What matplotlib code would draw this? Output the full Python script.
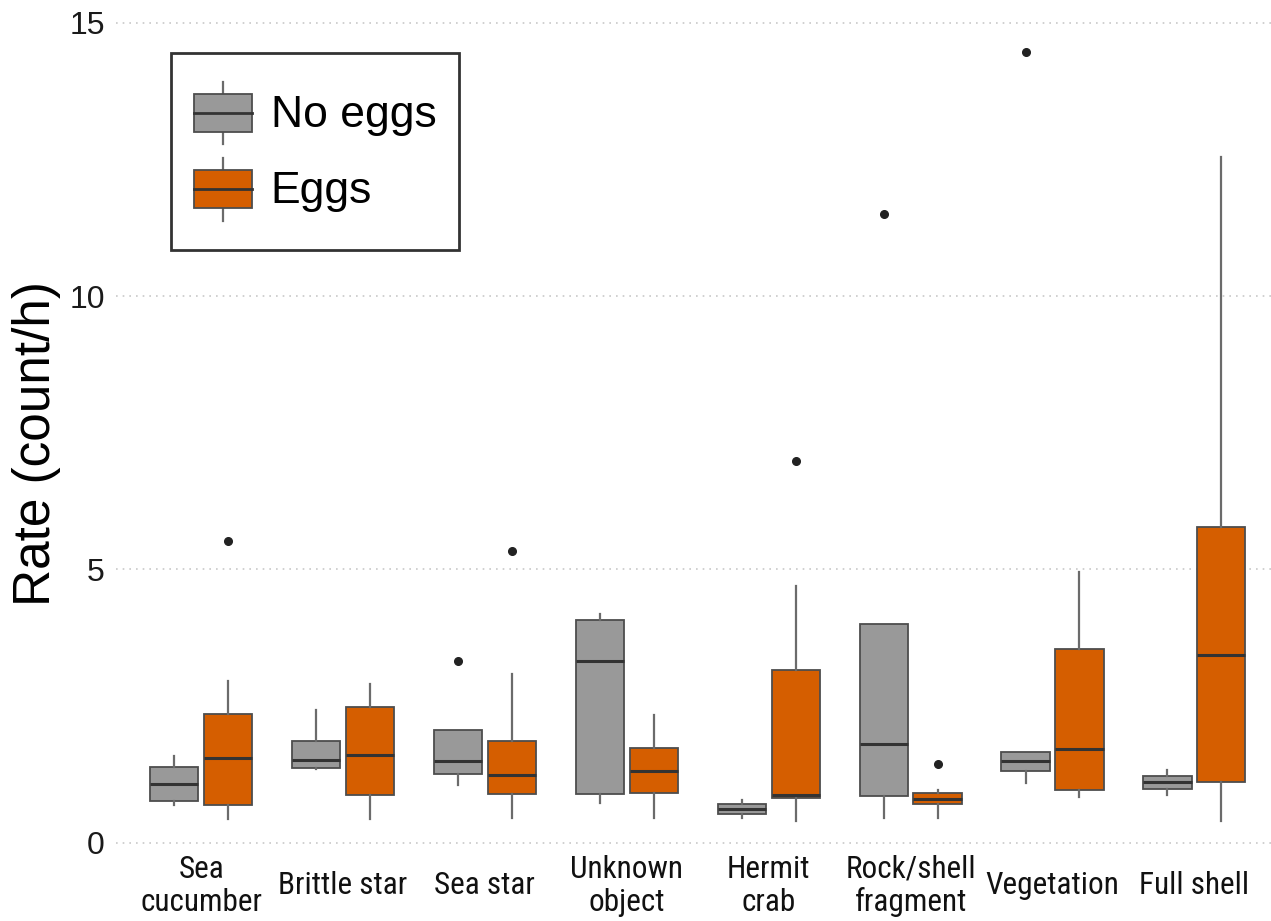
import matplotlib
matplotlib.use("Agg")
import matplotlib.pyplot as plt
from matplotlib import font_manager
from matplotlib.legend_handler import HandlerBase
from matplotlib.patches import Rectangle
from matplotlib.lines import Line2D

categories = ["Sea\ncucumber", "Brittle star", "Sea star", "Unknown\nobject",
              "Hermit\ncrab", "Rock/shell\nfragment", "Vegetation", "Full shell"]

# five-number summaries per category: (whisker low, q1, median, q3, whisker high)
no_eggs_low = [0.70, 1.35, 1.05, 0.73, 0.45, 0.45, 1.09, 0.87]
no_eggs_q1 = [0.77, 1.37, 1.26, 0.89, 0.53, 0.85, 1.32, 0.99]
no_eggs_med = [1.07, 1.52, 1.49, 3.32, 0.62, 1.80, 1.49, 1.12]
no_eggs_q3 = [1.39, 1.87, 2.07, 4.07, 0.71, 4.00, 1.66, 1.22]
no_eggs_high = [1.58, 2.43, 2.07, 4.18, 0.79, 4.00, 1.66, 1.34]
no_eggs_out = [[], [], [3.32], [], [], [11.50], [14.47], []]

eggs_low = [0.43, 0.43, 0.45, 0.45, 0.40, 0.45, 0.84, 0.40]
eggs_q1 = [0.70, 0.88, 0.89, 0.91, 0.82, 0.71, 0.96, 1.11]
eggs_med = [1.56, 1.60, 1.24, 1.32, 0.88, 0.80, 1.71, 3.44]
eggs_q3 = [2.35, 2.49, 1.87, 1.74, 3.16, 0.91, 3.54, 5.78]
eggs_high = [2.96, 2.90, 3.09, 2.34, 4.70, 0.96, 4.96, 12.54]
eggs_out = [[5.53], [], [5.33], [], [6.99], [1.44], [], []]

groups = ["No eggs", "Eggs"]
yticks = [0, 5, 10, 15]

GRAY = "#999999"
ORANGE = "#D55E00"
EDGE = "#4d4d4d"
MEDIAN = "#333333"
WHISK = "#6b6b6b"

SANS = ["Liberation Sans", "DejaVu Sans"]

# pick a narrow face for the category labels if one is installed
installed = {f.name for f in font_manager.fontManager.ttflist}
if "Liberation Sans Narrow" in installed:
    cat_font, cat_size = ["Liberation Sans Narrow", "DejaVu Sans"], 23
elif "Roboto Condensed" in installed:
    cat_font, cat_size = ["Roboto Condensed", "DejaVu Sans"], 22.5
else:
    cat_font, cat_size = SANS, 19


def make_stats(lo, q1, med, q3, hi, out):
    return [dict(whislo=a, q1=b, med=c, q3=d, whishi=e, fliers=f)
            for a, b, c, d, e, f in zip(lo, q1, med, q3, hi, out)]


fig = plt.figure(figsize=(12.71, 9.21), dpi=100)
ax = fig.add_axes([116 / 1271, 1 - 851 / 921, 1 - 116 / 1271, 850 / 921])

positions = list(range(1, len(categories) + 1))
offset = 0.19
width = 0.34

series = [
    (make_stats(no_eggs_low, no_eggs_q1, no_eggs_med, no_eggs_q3, no_eggs_high, no_eggs_out), GRAY, -offset),
    (make_stats(eggs_low, eggs_q1, eggs_med, eggs_q3, eggs_high, eggs_out), ORANGE, offset),
]

for stats, color, off in series:
    ax.bxp(stats, positions=[p + off for p in positions], widths=width,
           patch_artist=True, showcaps=False,
           boxprops=dict(facecolor=color, edgecolor=EDGE, linewidth=1.3),
           medianprops=dict(color=MEDIAN, linewidth=2.2),
           whiskerprops=dict(color=WHISK, linewidth=1.6),
           flierprops=dict(marker="o", markerfacecolor="#222222",
                           markeredgecolor="#222222", markersize=5.5),
           zorder=3)

ax.set_xlim(0.4, 8.54)
ax.set_ylim(-0.15, 15.4)
ax.set_yticks(yticks)
ax.set_yticklabels([str(t) for t in yticks], family=SANS, fontsize=23, color="#1a1a1a")
ax.set_xticks(positions)
ax.set_xticklabels(categories, family=cat_font, fontsize=cat_size, color="#111111",
                   linespacing=1.17)
for lbl in ax.get_xticklabels():
    lbl.set_verticalalignment("center")
ax.tick_params(axis="both", length=0)
ax.tick_params(axis="y", pad=8)
ax.tick_params(axis="x", pad=25)
for s in ax.spines.values():
    s.set_visible(False)
ax.yaxis.grid(True, linestyle=(0, (1, 3)), color="#c8c8c8", linewidth=1.2)
ax.set_axisbelow(True)
ax.set_ylabel("Rate (count/h)", family=SANS, fontsize=37)
ax.yaxis.set_label_coords(-0.048, 0.479)


class BoxHandler(HandlerBase):
    def __init__(self, color):
        super().__init__()
        self.color = color

    def create_artists(self, legend, orig_handle, xdescent, ydescent, width, height, fontsize, trans):
        x0 = -xdescent
        yb = -ydescent
        cx = x0 + width / 2
        cy = yb + height / 2
        bh = height * 0.5
        wl = Line2D([cx, cx], [cy - 0.41 * height, cy - bh / 2], color=WHISK, lw=1.6, transform=trans)
        wh = Line2D([cx, cx], [cy + bh / 2, cy + 0.41 * height], color=WHISK, lw=1.6, transform=trans)
        rect = Rectangle((x0, cy - bh / 2), width, bh, facecolor=self.color,
                         edgecolor=EDGE, lw=1.3, transform=trans)
        med = Line2D([x0, x0 + width], [cy, cy], color=MEDIAN, lw=2.0, transform=trans)
        return [wl, wh, rect, med]


h_no = Rectangle((0, 0), 1, 1)
h_eg = Rectangle((0, 0), 1, 1)
leg = ax.legend([h_no, h_eg], groups, loc="upper left",
                bbox_to_anchor=(0.048, 0.939), borderaxespad=0,
                handler_map={h_no: BoxHandler(GRAY), h_eg: BoxHandler(ORANGE)},
                prop=dict(family=SANS, size=32),
                frameon=True, fancybox=False, edgecolor="black",
                handlelength=1.31, handleheight=2.26, labelspacing=0.0,
                handletextpad=0.42, borderpad=0.5)
leg.get_frame().set_linewidth(2.0)

fig.savefig("out.png", dpi=100, facecolor="white")
